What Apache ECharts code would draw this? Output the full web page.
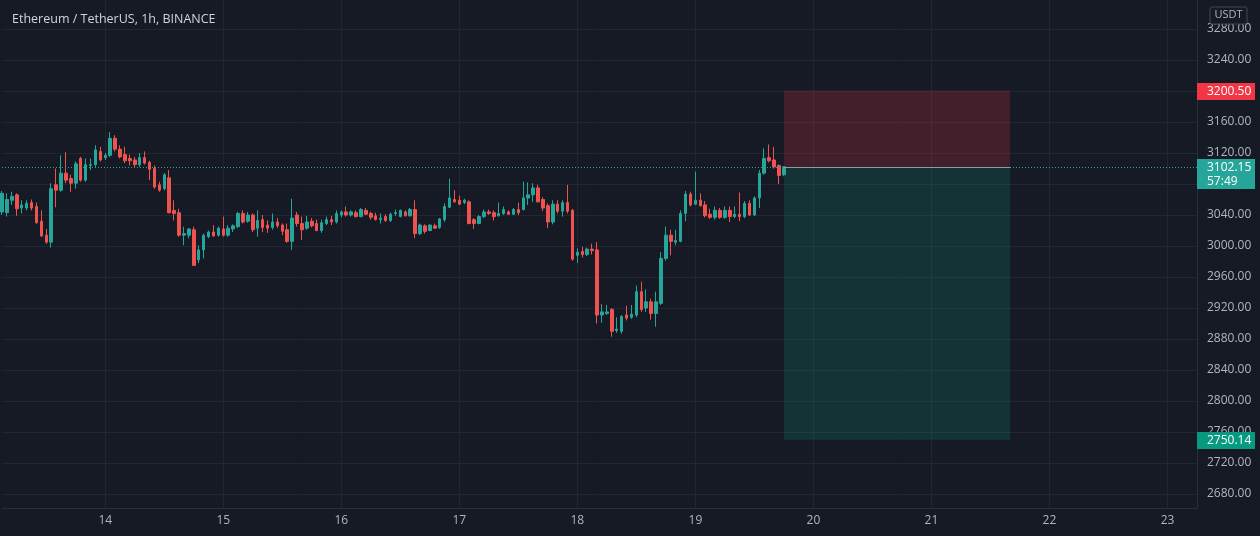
<!DOCTYPE html>
<html>
<head>
<meta charset="utf-8">
<script src="https://cdn.jsdelivr.net/npm/echarts@6/dist/echarts.min.js"></script>
<style>
html,body{margin:0;padding:0;background:#161a25;}
#chart{width:1260px;height:536px;}
</style>
</head>
<body>
<div id="chart"></div>
<script>
// ---- data ----
const titleText = 'Ethereum / TetherUS, 1h, BINANCE';
const startDay = 13, startHour = 3, totalHours = 244;
const yTicks = [2680,2720,2760,2800,2840,2880,2920,2960,3000,3040,3080,3120,3160,3200,3240,3280];
// [open, close, low, high]
const candles = [
[3044,3068,3040,3071],[3043,3060,3038,3068],[3059,3064,3053,3070],[3066,3048,3039,3068],[3049,3053,3042,3059],
[3049,3055,3046,3059],[3056,3049,3046,3060],[3051,3030,3029,3056],[3032,3013,3012,3046],[3014,3005,3003,3022],
[3005,3074,2998,3081],[3079,3072,3050,3100],[3072,3094,3070,3117],[3094,3085,3081,3121],[3087,3081,3070,3092],
[3081,3106,3074,3109],[3113,3085,3083,3115],[3085,3105,3083,3113],[3104,3105,3098,3113],[3105,3124,3102,3130],
[3122,3111,3109,3128],[3114,3117,3111,3120],[3117,3139,3115,3147],[3139,3125,3122,3143],[3125,3115,3113,3130],
[3118,3110,3107,3128],[3113,3110,3104,3118],[3111,3105,3101,3115],[3105,3114,3102,3120],[3114,3107,3105,3122],
[3108,3099,3085,3110],[3100,3076,3074,3104],[3079,3072,3070,3083],[3074,3092,3072,3094],[3088,3043,3042,3098],
[3046,3042,3033,3059],[3043,3014,3012,3048],[3014,3016,3001,3025],[3014,3022,3010,3023],[3021,2975,2975,3025],
[2982,2995,2978,3001],[2995,3014,2984,3016],[3012,3018,3010,3020],[3018,3013,3012,3027],[3014,3023,3012,3025],
[3022,3014,3012,3038],[3014,3023,3012,3027],[3022,3026,3018,3028],[3025,3042,3023,3044],[3042,3031,3029,3046],
[3032,3040,3030,3044],[3040,3021,3018,3042],[3023,3033,3012,3046],[3034,3024,3018,3040],[3027,3023,3017,3033],
[3024,3031,3021,3042],[3031,3026,3023,3036],[3027,3019,3014,3029],[3021,3006,3004,3029],[3006,3036,2995,3061],
[3040,3029,3025,3044],[3029,3021,3008,3038],[3023,3031,3021,3039],[3032,3026,3024,3036],[3029,3020,3019,3034],
[3020,3030,3017,3034],[3029,3034,3027,3038],[3034,3031,3027,3039],[3031,3042,3029,3046],[3040,3044,3037,3046],
[3044,3040,3038,3051],[3040,3044,3038,3046],[3043,3038,3037,3046],[3038,3047,3037,3049],[3046,3041,3040,3049],
[3042,3037,3034,3044],[3039,3034,3033,3043],[3034,3036,3029,3042],[3038,3033,3031,3041],[3033,3041,3031,3043],
[3042,3043,3039,3047],[3038,3046,3037,3047],[3044,3039,3038,3046],[3039,3047,3038,3049],[3047,3016,3010,3059],
[3016,3027,3014,3029],[3026,3019,3016,3028],[3020,3027,3019,3028],[3026,3023,3022,3029],[3024,3035,3022,3036],
[3034,3051,3031,3055],[3050,3062,3049,3087],[3060,3057,3056,3072],[3059,3054,3053,3065],[3056,3059,3054,3061],
[3057,3029,3028,3059],[3034,3029,3022,3036],[3029,3038,3028,3040],[3038,3044,3036,3047],[3044,3042,3040,3047],
[3043,3038,3033,3046],[3039,3042,3038,3056],[3042,3047,3040,3051],[3044,3041,3040,3046],[3041,3047,3040,3049],
[3047,3043,3040,3056],[3047,3062,3046,3083],[3062,3066,3053,3082],[3066,3075,3057,3081],[3075,3057,3056,3079],
[3060,3049,3045,3063],[3052,3031,3023,3055],[3031,3054,3028,3059],[3054,3045,3042,3059],[3045,3056,3038,3059],
[3056,3045,3042,3079],[3046,2983,2981,3048],[2988,2992,2978,2997],[2993,2989,2985,2999],[2989,2996,2987,2998],
[2996,2994,2989,3003],[2995,2911,2900,3005],[2911,2915,2901,2925],[2913,2915,2911,2924],[2918,2890,2883,2920],
[2891,2893,2888,2908],[2890,2909,2887,2911],[2911,2907,2904,2923],[2908,2912,2906,2924],[2911,2941,2908,2949],
[2941,2918,2915,2954],[2920,2928,2915,2944],[2928,2913,2905,2932],[2913,2928,2896,2941],[2926,2984,2924,2992],
[2984,3014,2981,3025],[3014,3006,2988,3021],[3005,3007,3001,3021],[3006,3042,3005,3046],[3042,3067,3032,3071],
[3067,3053,3051,3070],[3054,3059,3053,3096],[3059,3052,3051,3068],[3053,3039,3037,3058],[3041,3037,3035,3048],
[3037,3046,3034,3051],[3046,3037,3035,3049],[3037,3046,3035,3051],[3046,3038,3031,3051],[3038,3041,3036,3051],
[3041,3038,3032,3069],[3038,3055,3036,3058],[3055,3040,3039,3059],[3040,3062,3039,3064],[3062,3094,3049,3098],
[3094,3113,3092,3126],[3114,3110,3108,3131],[3111,3102,3100,3128],[3104,3091,3080,3105],[3092,3102.15,3090,3103]
];
const lastPrice = 3102.15;
const countdown = '57:49';
const stopPrice = 3200.50;
const targetPrice = 2750.14;
const positionStartIdx = 159;
const positionEndIdx = 205;

// ---- build ----
const categories = [];
for (let i = 0; i < totalHours; i++) {
  const h = startHour + i;
  const d = startDay + Math.floor(h / 24);
  const hh = h % 24;
  categories.push(d + ' ' + (hh < 10 ? '0' : '') + hh + ':00');
}
const isDayStart = (i) => /\s00:00$/.test(categories[i]);

const UP = '#26a69a', DOWN = '#ef5350';
const GRID = '#222632';
const TXT = '#b2b5be';
const FONT = '"Open Sans", "Noto Sans", sans-serif';
const BG = '#161a25';
const GRID_RIGHT = 63, GRID_BOTTOM = 28;

const chart = echarts.init(document.getElementById('chart'), null, {renderer: 'canvas'});
const pStart = categories[positionStartIdx], pEnd = categories[positionEndIdx];

chart.setOption({
  backgroundColor: BG,
  animation: false,
  textStyle: {fontFamily: FONT},
  title: {
    text: titleText, left: 7, top: 8,
    textStyle: {color: '#d1d4dc', fontSize: 12.5, fontWeight: 'normal', fontFamily: FONT}
  },
  grid: {left: 2, right: GRID_RIGHT, top: 0, bottom: GRID_BOTTOM, containLabel: false},
  xAxis: {
    type: 'category', data: categories, boundaryGap: false,
    axisLine: {show: true, lineStyle: {color: '#2a2e39'}},
    axisTick: {show: false},
    axisLabel: {interval: isDayStart, formatter: v => v.split(' ')[0], color: TXT, fontSize: 12, margin: 7, fontFamily: FONT},
    splitLine: {show: true, interval: isDayStart, lineStyle: {color: GRID, width: 1}}
  },
  yAxis: {
    type: 'value', position: 'right', min: 2662, max: 3317.4, scale: true,
    axisLine: {show: true, lineStyle: {color: '#2a2e39'}},
    axisTick: {show: false, customValues: yTicks},
    axisLabel: {customValues: yTicks, formatter: v => v.toFixed(2), color: TXT, fontSize: 12, margin: 10, fontFamily: FONT},
    splitLine: {show: true, lineStyle: {color: GRID, width: 1}}
  },
  series: [{
    type: 'candlestick',
    data: candles,
    barWidth: 3,
    clip: false,
    itemStyle: {color: UP, color0: DOWN, borderColor: UP, borderColor0: DOWN, borderWidth: 1},
    markArea: {
      silent: true,
      data: [
        [{coord: [pStart, stopPrice], itemStyle: {color: 'rgba(242,54,69,0.2)'}}, {coord: [pEnd, lastPrice]}],
        [{coord: [pStart, lastPrice], itemStyle: {color: 'rgba(8,153,129,0.2)'}}, {coord: [pEnd, targetPrice]}]
      ]
    },
    markLine: {
      silent: true, symbol: ['none', 'none'], animation: false,
      data: [
        {yAxis: lastPrice, lineStyle: {color: UP, type: [1, 2], width: 1}, label: {show: false}},
        [{coord: [pStart, lastPrice], lineStyle: {color: '#9598a1', type: 'solid', width: 1}, label: {show: false}}, {coord: [pEnd, lastPrice]}]
      ]
    }
  }]
});

// price tags on the right scale, positioned from the data values
const W = chart.getWidth();
const axisX = W - GRID_RIGHT;
const tagW = 58;
function tag(value, bg, lines) {
  const y = chart.convertToPixel({yAxisIndex: 0}, value);
  const h = lines.length > 1 ? 30 : 17;
  const top = Math.round(y) - 8;
  return [{
    type: 'rect', z: 200, shape: {x: axisX, y: top, width: tagW, height: h, r: 0},
    style: {fill: bg}
  }, {
    type: 'text', z: 201, x: axisX + 10, y: top + 2,
    style: {text: lines.join('\n'), fill: '#ffffff', font: '12px ' + FONT,
            align: 'left', verticalAlign: 'top', lineHeight: 14}
  }];
}
const graphics = [].concat(
  [{type: 'rect', z: 100, shape: {x: W - 50, y: 7, width: 37, height: 17, r: 2},
    style: {fill: BG, stroke: '#434651', lineWidth: 1}},
   {type: 'text', z: 101, x: W - 31.5, y: 9.5, style: {text: 'USDT', fill: TXT, font: '11px ' + FONT, align: 'center', verticalAlign: 'top'}}],
  tag(stopPrice, '#f23645', [stopPrice.toFixed(2)]),
  tag(lastPrice, '#26a69a', [lastPrice.toFixed(2), countdown]),
  tag(targetPrice, '#089981', [targetPrice.toFixed(2)])
);
chart.setOption({graphic: graphics});
</script>
</body>
</html>
